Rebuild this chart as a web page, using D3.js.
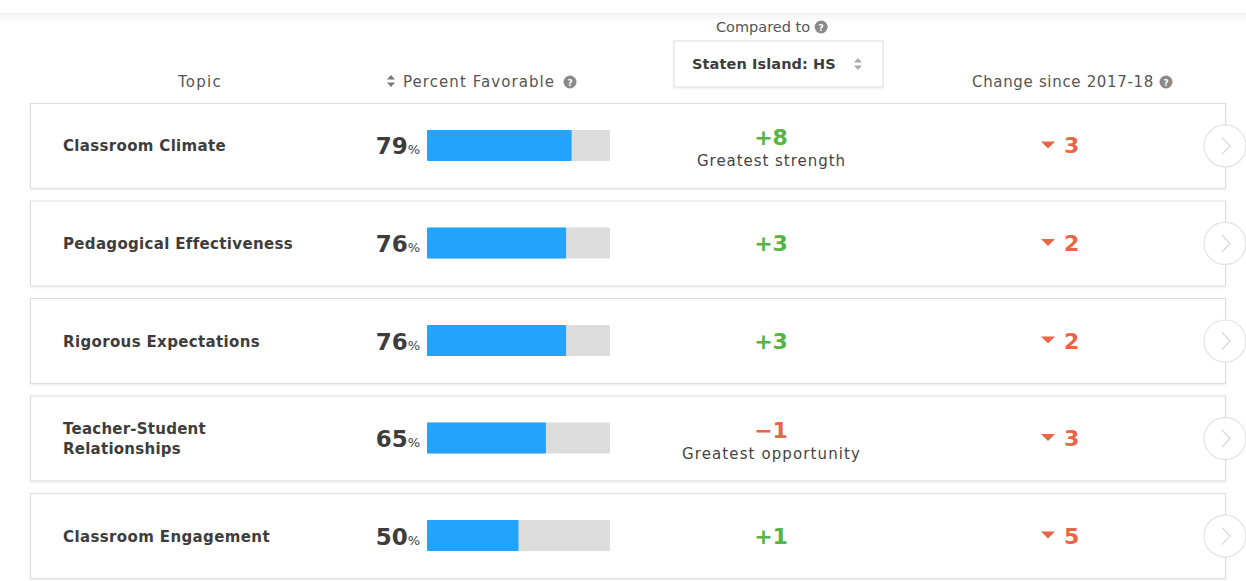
<!DOCTYPE html>
<html><head><meta charset="utf-8">
<script src="https://cdn.jsdelivr.net/npm/d3@7"></script>
<style>
body{margin:0;background:#fff;}
svg{display:block;font-family:"DejaVu Sans","Open Sans",sans-serif;}
</style></head>
<body><svg id="c" width="1246" height="581"></svg>
<script>
const topics = ["Classroom Climate","Pedagogical Effectiveness","Rigorous Expectations","Teacher-Student Relationships","Classroom Engagement"];
const topicLines = [["Classroom Climate"],["Pedagogical Effectiveness"],["Rigorous Expectations"],["Teacher-Student","Relationships"],["Classroom Engagement"]];
const percentFavorable = [79,76,76,65,50];
const comparedDiff = [8,3,3,-1,1];
const comparedNote = ["Greatest strength","","","Greatest opportunity",""];
const changeSince = [-3,-2,-2,-3,-5];
const headers = {topic:"Topic", pct:"Percent Favorable", compared:"Compared to", school:"Staten Island: HS", change:"Change since 2017-18"};

const GREEN="#55b542", RED="#ea6446", BLUE="#22a4fc", GREYBAR="#dcdcdc", TXT="#3d3d3d";
const svg=d3.select("#c");

const defs=svg.append("defs");
const g1=defs.append("linearGradient").attr("id","band").attr("x1",0).attr("x2",0).attr("y1",0).attr("y2",1);
g1.append("stop").attr("offset","0").attr("stop-color","#f3f3f3");
g1.append("stop").attr("offset","1").attr("stop-color","#ffffff");
svg.append("rect").attr("x",0).attr("y",13).attr("width",1246).attr("height",10).attr("fill","url(#band)");
const sh=defs.append("filter").attr("id","sh").attr("x","-5%").attr("y","-20%").attr("width","110%").attr("height","140%");
sh.append("feDropShadow").attr("dx",0).attr("dy",1).attr("stdDeviation",1).attr("flood-color","#000").attr("flood-opacity",0.08);

function qmark(x,y){
  svg.append("circle").attr("cx",x).attr("cy",y).attr("r",6.5).attr("fill","#8a8a8a");
  svg.append("text").attr("x",x).attr("y",y+3.5).attr("text-anchor","middle").attr("font-size",9).attr("font-weight",700).attr("fill","#fff").text("?");
}
function sortIcon(x,y,c){
  svg.append("path").attr("d",`M${x-4},${y-1.5}L${x},${y-6}L${x+4},${y-1.5}Z`).attr("fill",c);
  svg.append("path").attr("d",`M${x-4},${y+1.5}L${x},${y+6}L${x+4},${y+1.5}Z`).attr("fill",c);
}
// nudge letter-spacing so a text spans the width seen in the reference
function fitW(sel,w){
  const n=sel.text().length, cur=sel.node().getComputedTextLength();
  sel.attr("letter-spacing",((w-cur)/Math.max(1,n)).toFixed(2));
  return sel;
}

const hs=15, hc="#555";
fitW(svg.append("text").attr("x",178).attr("y",87).attr("font-size",hs).attr("fill",hc).text(headers.topic),44);
fitW(svg.append("text").attr("x",403).attr("y",87).attr("font-size",hs).attr("fill",hc).text(headers.pct),152);
sortIcon(391,81,"#777");
qmark(570,82);
const cmp=svg.append("text").attr("x",716).attr("y",32).attr("font-size",14.5).attr("fill",hc).text(headers.compared);
qmark(716+cmp.node().getComputedTextLength()+11,27);
svg.append("rect").attr("x",674).attr("y",41).attr("width",209).attr("height",46).attr("fill","#fff").attr("stroke","#dedede").attr("filter","url(#sh)");
fitW(svg.append("text").attr("x",692).attr("y",69).attr("font-size",14.5).attr("font-weight",700).attr("fill",TXT).text(headers.school),144);
sortIcon(858,64,"#aaa");
fitW(svg.append("text").attr("x",972).attr("y",87).attr("font-size",hs).attr("fill",hc).text(headers.change),182);
qmark(1166,82);

const y=d3.scaleBand().domain(topics).range([103,578]).paddingInner(0.13).paddingOuter(0);
const x=d3.scaleLinear().domain([0,100]).range([427,610]);

const rows=svg.selectAll("g.row").data(topics).join("g").attr("class","row");
rows.append("rect").attr("x",30.5).attr("y",d=>y(d)+0.5).attr("width",1195).attr("height",y.bandwidth())
  .attr("fill","#fff").attr("stroke","#dcdcdc").attr("filter","url(#sh)");

const topicW={"Classroom Climate":163,"Pedagogical Effectiveness":229,"Rigorous Expectations":197,"Teacher-Student":143,"Relationships":118,"Classroom Engagement":207};

rows.each(function(d,i){
  const g=d3.select(this), cy=y(d)+y.bandwidth()/2;
  const lines=topicLines[i];
  lines.forEach((l,j)=>{
    const t=g.append("text").attr("x",63).attr("y",cy+6+(j-(lines.length-1)/2)*19.5)
      .attr("font-size",15).attr("font-weight",700).attr("fill",TXT).text(l);
    fitW(t,topicW[l]);
  });
  const t=g.append("text").attr("x",420).attr("y",cy+9).attr("text-anchor","end").attr("fill",TXT);
  t.append("tspan").attr("font-size",23).attr("font-weight",700).text(percentFavorable[i]);
  t.append("tspan").attr("font-size",13).attr("font-weight",400).text("%");
  g.append("rect").attr("x",x(0)).attr("y",cy-15.5).attr("width",x(100)-x(0)).attr("height",31).attr("fill",GREYBAR).attr("rx",1);
  g.append("rect").attr("x",x(0)).attr("y",cy-15.5).attr("width",x(percentFavorable[i])-x(0)).attr("height",31).attr("fill",BLUE).attr("rx",1);
  const v=comparedDiff[i], note=comparedNote[i];
  g.append("text").attr("x",771).attr("y",note? cy : cy+8).attr("text-anchor","middle")
    .attr("font-size",22).attr("font-weight",700).attr("fill",v>=0?GREEN:RED)
    .text(v>=0?"+"+v:"\u2212"+Math.abs(v));
  if(note){
    const nt=g.append("text").attr("x",i===0?697:682).attr("y",cy+21).attr("font-size",15).attr("fill","#444").text(note);
    fitW(nt, i===0?149:179);
  }
  const c=changeSince[i];
  g.append("path").attr("d",`M${1041},${cy-4}L${1055},${cy-4}L${1048},${cy+3}Z`).attr("fill",RED);
  g.append("text").attr("x",1064).attr("y",cy+8).attr("font-size",22).attr("font-weight",700).attr("fill",RED).text(Math.abs(c));
  g.append("circle").attr("cx",1225).attr("cy",cy+0.5).attr("r",21).attr("fill","#fff").attr("stroke","#e2e2e2").attr("stroke-width",1.2);
  g.append("path").attr("d",`M${1222},${cy-8}L${1230},${cy+0.5}L${1222},${cy+9}`).attr("fill","none").attr("stroke","#d6d6d6").attr("stroke-width",1.2);
});
</script></body></html>
